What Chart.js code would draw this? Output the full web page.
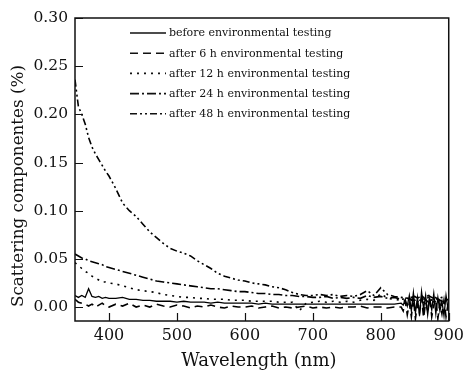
<!DOCTYPE html>
<html><head><meta charset="utf-8">
<script src="https://cdn.jsdelivr.net/npm/chart.js@4/dist/chart.umd.min.js"></script>
<style>html,body{margin:0;padding:0;background:#fff}#wrap{width:469px;height:373px}</style>
</head><body><div id="wrap"><canvas id="c" width="469" height="373"></canvas></div>
<script>
// Wavelength grids (nm)
const wlMain = [350,355,360,365,370,375,380,385,390,395,400,410,420,430,440,450,460,470,480,490,500,510,520,530,540,550,560,570,580,590,600,610,620,630,640,650,660,670,680,690,700,710,720,730,740,750,760,770,780,790,800,810,820,830,840,850,860,870,880,890,900];
const wlNoisy = [350,355,360,365,370,375,380,385,390,395,400,410,420,430,440,450,460,470,480,490,500,510,520,530,540,550,560,570,580,590,600,610,620,630,640,650,660,670,680,690,700,710,720,730,740,750,760,770,780,790,800,810,820,830,833,836,839,842,845,848,851,854,857,860,863,866,869,872,875,878,881,884,887,890,893,896,899];

// Series values (%)
const before = [0.012,0.010,0.012,0.010,0.019,0.011,0.010,0.011,0.009,0.010,0.009,0.009,0.010,0.008,0.008,0.007,0.007,0.006,0.006,0.006,0.005,0.006,0.005,0.005,0.005,0.004,0.005,0.004,0.004,0.004,0.004,0.004,0.003,0.004,0.003,0.003,0.003,0.003,0.003,0.003,0.003,0.003,0.003,0.003,0.003,0.003,0.003,0.003,0.003,0.003,0.003,0.003,0.003,0.004,
  0.002,0.008,0.001,0.012,-0.004,0.015,-0.006,0.010,-0.009,0.016,-0.002,0.012,-0.008,0.009,-0.003,0.014,-0.007,0.010,-0.004,0.006,-0.009,0.012,-0.002];
const after6h = [0.008,0.005,0.004,0.003,0.001,0.003,0.000,0.002,0.004,0.001,0.000,0.003,0.001,0.004,0.000,0.002,0.000,0.003,0.001,0.000,0.002,0.001,-0.001,0.001,0.000,0.002,0.000,-0.001,0.001,0.000,0.000,0.001,-0.001,0.000,0.001,-0.001,0.000,-0.001,0.000,0.001,-0.001,0.000,-0.001,0.000,-0.001,0.000,0.000,0.001,-0.001,0.000,0.000,-0.001,0.000,0.000,
  -0.004,0.006,-0.008,0.004,-0.010,0.009,-0.012,0.003,-0.006,0.010,-0.011,0.005,-0.004,0.011,-0.010,0.002,0.008,-0.012,0.004,-0.007,0.007,-0.010,0.003];
const after12h = [0.046,0.043,0.040,0.037,0.035,0.032,0.030,0.028,0.026,0.026,0.025,0.024,0.022,0.020,0.018,0.017,0.016,0.015,0.013,0.012,0.011,0.010,0.010,0.009,0.009,0.008,0.008,0.008,0.007,0.007,0.007,0.006,0.006,0.006,0.006,0.005,0.005,0.005,-0.004,0.004,0.005,0.006,0.005,0.006,0.005,0.006,0.005,0.007,0.008,0.007,0.014,0.009,0.008,0.007,0.006,0.008,0.003,0.010,0.004,0.008,0.005];
const after24h = [0.055,0.053,0.051,0.050,0.048,0.047,0.046,0.045,0.044,0.042,0.041,0.039,0.037,0.035,0.033,0.031,0.029,0.027,0.026,0.025,0.024,0.023,0.022,0.021,0.020,0.019,0.019,0.018,0.017,0.016,0.016,0.015,0.014,0.014,0.013,0.013,0.012,0.012,0.011,0.011,0.010,0.010,0.011,0.009,0.010,0.009,0.010,0.009,0.012,0.010,0.011,0.009,0.010,0.008,0.009,0.007,0.012,0.005,0.010,0.006,0.009];
const after48h = [0.236,0.208,0.200,0.190,0.176,0.166,0.159,0.153,0.147,0.141,0.136,0.123,0.108,0.100,0.094,0.086,0.078,0.072,0.066,0.061,0.058,0.056,0.053,0.048,0.044,0.040,0.035,0.032,0.030,0.028,0.027,0.025,0.024,0.023,0.021,0.020,0.018,0.015,0.013,0.012,0.012,0.013,0.012,0.013,0.011,0.012,0.011,0.013,0.017,0.012,0.020,0.013,0.011,0.010,0.009,0.011,0.006,0.012,0.008,0.010,0.007];

const seriesLabels = ['before environmental testing','after 6 h environmental testing','after 12 h environmental testing','after 24 h environmental testing','after 48 h environmental testing'];
const xTicks = [400,500,600,700,800,900];
const yTicks = [0.00,0.05,0.10,0.15,0.20,0.25,0.30];
const xTitle = 'Wavelength (nm)';
const yTitle = 'Scattering componentes (%)';

const FONT = '"DejaVu Serif", "Liberation Serif", serif';
const dashes = [[], [8,5], [2,5], [9,3,2,3], [7,3,2,3,2,3]];
function pts(xs, ys){ return xs.map((x,i)=>({x:x, y:ys[i]})); }

const datasets = [
  [wlNoisy, before],[wlNoisy, after6h],[wlMain, after12h],[wlMain, after24h],[wlMain, after48h]
].map((p,i)=>({
  label: seriesLabels[i], data: pts(p[0],p[1]),
  borderColor:'#000', borderWidth: i===0?1.3:1.6, borderDash: dashes[i],
  pointRadius:0, fill:false, tension:0
}));

const deco = {
  id:'deco',
  afterDraw(chart){
    const ctx = chart.ctx, a = chart.chartArea;
    const xs = chart.scales.x, ys = chart.scales.y;
    ctx.save();
    ctx.strokeStyle = '#111'; ctx.lineWidth = 1.5; ctx.setLineDash([]);
    ctx.strokeRect(a.left, a.top, a.right-a.left, a.bottom-a.top);
    ctx.lineWidth = 1.2;
    ctx.beginPath();
    xTicks.forEach(v=>{ const px = Math.round(xs.getPixelForValue(v))+0.5; ctx.moveTo(px,a.bottom); ctx.lineTo(px,a.bottom-8); });
    yTicks.forEach(v=>{ const py = Math.round(ys.getPixelForValue(v))+0.5; ctx.moveTo(a.left,py); ctx.lineTo(a.left+8,py); });
    ctx.stroke();
    // axis titles
    ctx.fillStyle = '#111';
    ctx.font = '18px ' + FONT;
    ctx.textAlign = 'center'; ctx.textBaseline = 'alphabetic';
    ctx.fillText(xTitle, (a.left+a.right)/2 - 3, 366);
    ctx.save();
    ctx.font = '16.8px ' + FONT;
    ctx.translate(23, 186); ctx.rotate(-Math.PI/2);
    ctx.fillText(yTitle, 0, 0);
    ctx.restore();
    // legend
    ctx.font = '11px ' + FONT;
    ctx.textAlign = 'left'; ctx.textBaseline = 'middle';
    chart.data.datasets.forEach((d,i)=>{
      const y = 33 + i*20.2;
      ctx.beginPath(); ctx.lineWidth = 1.6; ctx.setLineDash(d.borderDash);
      ctx.moveTo(130,y); ctx.lineTo(166,y); ctx.stroke();
      ctx.setLineDash([]);
      ctx.fillText(d.label, 169, y+0.5);
    });
    ctx.restore();
  }
};

new Chart(document.getElementById('c'), {
  type:'line',
  data:{ datasets: datasets },
  options:{
    responsive:false, animation:false, devicePixelRatio:1,
    layout:{ padding:{ left:0, right:17, top:18, bottom:0 } },
    plugins:{ legend:{display:false}, tooltip:{enabled:false} },
    scales:{
      x:{ type:'linear', min:350, max:900,
        afterBuildTicks:s=>{ s.ticks = xTicks.map(v=>({value:v})); },
        afterFit:s=>{ s.height = 52; },
        grid:{display:false, drawTicks:false}, border:{display:false},
        ticks:{ color:'#111', font:{family:FONT, size:16}, padding:5, maxRotation:0, callback:v=>String(v) } },
      y:{ type:'linear', min:-0.0145, max:0.30,
        afterBuildTicks:s=>{ s.ticks = yTicks.map(v=>({value:v})); },
        afterFit:s=>{ s.width = 75; },
        grid:{display:false, drawTicks:false}, border:{display:false},
        ticks:{ color:'#111', font:{family:FONT, size:15.5}, padding:7, callback:v=>Number(v).toFixed(2) } }
    }
  },
  plugins:[deco]
});
</script></body></html>
